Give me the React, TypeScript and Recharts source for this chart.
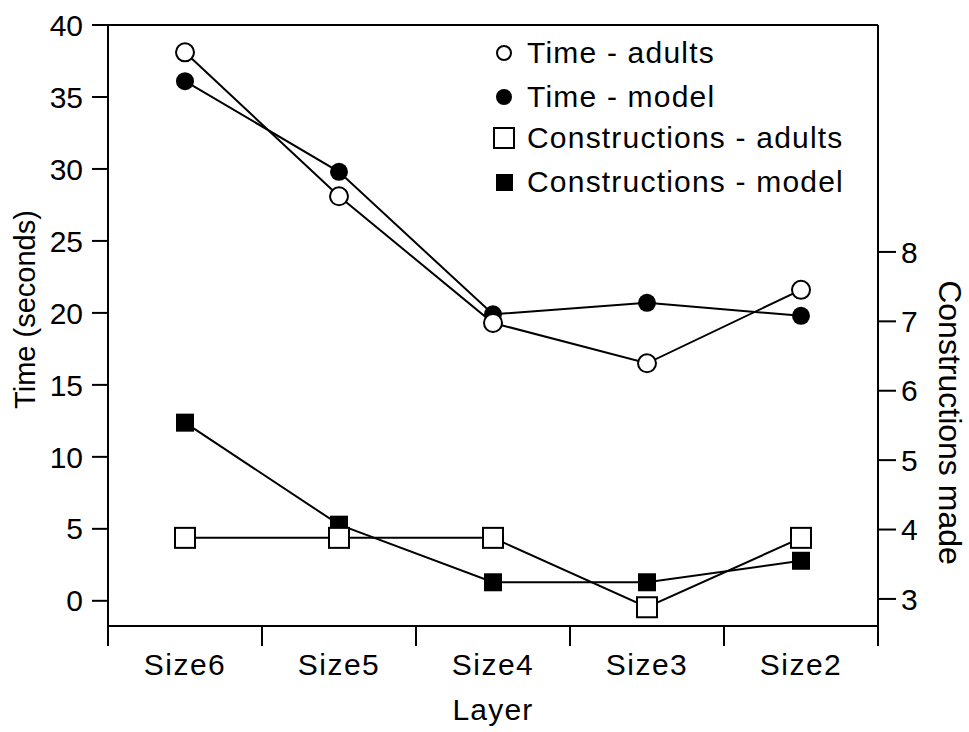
import { LineChart, Line, XAxis, YAxis, Legend, ReferenceLine, Label } from "recharts"

const layers = ["Size6", "Size5", "Size4", "Size3", "Size2"]
const timeAdults = [38.1, 28.1, 19.3, 16.5, 21.6]
const timeModel = [36.1, 29.8, 19.9, 20.7, 19.8]
const constructionsAdults = [3.88, 3.88, 3.88, 2.88, 3.88]
const constructionsModel = [5.54, 4.07, 3.24, 3.24, 3.55]

const timeTicks = [0, 5, 10, 15, 20, 25, 30, 35, 40]
const constructionTicks = [3, 4, 5, 6, 7, 8]
// category boundaries for the tick marks under the x axis
const boundaryTicks = [0, 1, 2, 3, 4, 5]

const data = layers.map((layer, i) => ({
    layer,
    slot: i + 0.5,
    timeAdults: timeAdults[i],
    timeModel: timeModel[i],
    constructionsAdults: constructionsAdults[i],
    constructionsModel: constructionsModel[i],
}))

const FONT = "'Liberation Sans', Arial, sans-serif"
const tickStyle = { fill: "#000", fontSize: 30, fontFamily: FONT }

const OpenCircle = (p: any) => (
    <circle key={p.index} cx={p.cx} cy={p.cy} r={9} fill="#fff" stroke="#000" strokeWidth={2} />
)
const FilledCircle = (p: any) => <circle key={p.index} cx={p.cx} cy={p.cy} r={9} fill="#000" stroke="none" />
const OpenSquare = (p: any) => (
    <rect key={p.index} x={p.cx - 10} y={p.cy - 10} width={20} height={20} fill="#fff" stroke="#000" strokeWidth={2} />
)
const FilledSquare = (p: any) => (
    <rect key={p.index} x={p.cx - 9} y={p.cy - 9} width={18} height={18} fill="#000" />
)

const legendItems = [
    { label: "Time - adults", shape: "openCircle" },
    { label: "Time - model", shape: "filledCircle" },
    { label: "Constructions - adults", shape: "openSquare" },
    { label: "Constructions - model", shape: "filledSquare" },
]
const legendRows = [23, 67, 108, 152]

function LegendContent() {
    return (
        <svg width={380} height={180} style={{ display: "block" }}>
            {legendItems.map((item, i) => {
                const cy = legendRows[i]
                let sym = null
                if (item.shape === "openCircle")
                    sym = <circle cx={14} cy={cy} r={7} fill="#fff" stroke="#000" strokeWidth={2} />
                else if (item.shape === "filledCircle") sym = <circle cx={14} cy={cy} r={8} fill="#000" />
                else if (item.shape === "openSquare")
                    sym = <rect x={4} y={cy - 10} width={20} height={20} fill="#fff" stroke="#000" strokeWidth={2} />
                else sym = <rect x={6} y={cy - 8} width={17} height={17} fill="#000" />
                return (
                    <g key={item.label}>
                        {sym}
                        <text x={37} y={cy + 10} fontSize={30} fontFamily={FONT} letterSpacing={1.2} fill="#000">
                            {item.label}
                        </text>
                    </g>
                )
            })}
        </svg>
    )
}

const leftTitle = (props: any) => {
    const vb = props.viewBox
    const x = vb.x + 35
    const y = vb.y + vb.height / 2 - 16
    return (
        <text x={x} y={y} transform={`rotate(-90, ${x}, ${y})`} textAnchor="middle" fontSize={29} fontFamily={FONT} fill="#000">
            Time (seconds)
        </text>
    )
}

const rightTitle = (props: any) => {
    const vb = props.viewBox
    const x = vb.x + 61
    const y = vb.y + vb.height / 2 + 97
    return (
        <text x={x} y={y} transform={`rotate(90, ${x}, ${y})`} textAnchor="middle" fontSize={32} fontFamily={FONT} fill="#000">
            Constructions made
        </text>
    )
}

const bottomTitle = (props: any) => {
    const vb = props.viewBox
    return (
        <text x={vb.x + vb.width / 2} y={vb.y + 74} textAnchor="middle" fontSize={30} fontFamily={FONT} letterSpacing={1.2} fill="#000">
            Layer
        </text>
    )
}

export default function App() {
    return (
        <div style={{ position: "absolute", left: 0, top: 0, background: "#fff", fontFamily: FONT }}>
            <LineChart width={969} height={732} data={data} margin={{ top: 25, right: 0, bottom: 0, left: 0 }}>
                <XAxis
                    xAxisId="b-layer"
                    dataKey="layer"
                    type="category"
                    padding={{ left: 77, right: 77 }}
                    axisLine={false}
                    tickLine={false}
                    tickSize={0}
                    tickMargin={8}
                    height={86}
                    tick={{ ...tickStyle, letterSpacing: 1.5 }}
                    interval={0}
                >
                    <Label content={bottomTitle} />
                </XAxis>
                <XAxis
                    xAxisId="a-grid"
                    dataKey="slot"
                    type="number"
                    domain={[0, 5]}
                    allowDataOverflow
                    ticks={boundaryTicks}
                    interval={0}
                    tickFormatter={() => ""}
                    tickSize={20}
                    tickLine={{ stroke: "#000", strokeWidth: 2 }}
                    height={20}
                    stroke="#000"
                    strokeWidth={2}
                />
                <YAxis
                    yAxisId="time"
                    domain={[-1.75, 40]}
                    ticks={timeTicks}
                    interval={0}
                    width={108}
                    tickSize={16}
                    tickMargin={9}
                    stroke="#000"
                    strokeWidth={2}
                    tick={tickStyle}
                    allowDataOverflow
                >
                    <Label content={leftTitle} />
                </YAxis>
                <YAxis
                    yAxisId="cons"
                    orientation="right"
                    domain={[2.61, 11.27]}
                    ticks={constructionTicks}
                    interval={0}
                    width={91}
                    tickSize={18}
                    tickMargin={5}
                    stroke="#000"
                    strokeWidth={2}
                    tick={tickStyle}
                    allowDataOverflow
                >
                    <Label content={rightTitle} />
                </YAxis>
                <ReferenceLine yAxisId="time" xAxisId="b-layer" y={40} stroke="#000" strokeWidth={2} />
                <Legend
                    layout="vertical"
                    verticalAlign="middle"
                    align="center"
                    content={LegendContent}
                    wrapperStyle={{ position: "absolute", top: 30, left: 490, width: 380 }}
                />
                <Line
                    xAxisId="b-layer"
                    yAxisId="cons"
                    dataKey="constructionsModel"
                    stroke="#000"
                    strokeWidth={2}
                    dot={FilledSquare}
                    activeDot={false}
                    isAnimationActive={false}
                />
                <Line
                    xAxisId="b-layer"
                    yAxisId="cons"
                    dataKey="constructionsAdults"
                    stroke="#000"
                    strokeWidth={2}
                    dot={OpenSquare}
                    activeDot={false}
                    isAnimationActive={false}
                />
                <Line
                    xAxisId="b-layer"
                    yAxisId="time"
                    dataKey="timeModel"
                    stroke="#000"
                    strokeWidth={2}
                    dot={FilledCircle}
                    activeDot={false}
                    isAnimationActive={false}
                />
                <Line
                    xAxisId="b-layer"
                    yAxisId="time"
                    dataKey="timeAdults"
                    stroke="#000"
                    strokeWidth={2}
                    dot={OpenCircle}
                    activeDot={false}
                    isAnimationActive={false}
                />
            </LineChart>
        </div>
    )
}
